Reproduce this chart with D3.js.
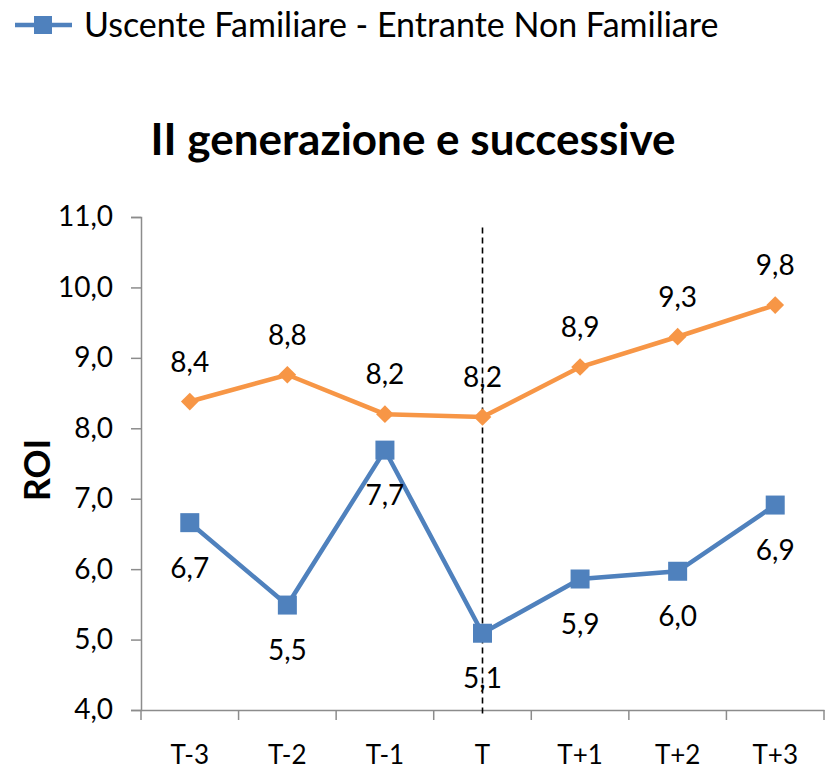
<!DOCTYPE html>
<html><head><meta charset="utf-8">
<script src="https://cdn.jsdelivr.net/npm/d3@7"></script>
<style>body{margin:0;background:#fff}svg{display:block}</style>
</head><body>
<script>
const categories = ["T-3","T-2","T-1","T","T+1","T+2","T+3"];
const orangeValues = [8.38, 8.76, 8.20, 8.16, 8.87, 9.30, 9.75];
const orangeLabels = ["8,4","8,8","8,2","8,2","8,9","9,3","9,8"];
const blueValues = [6.66, 5.49, 7.69, 5.09, 5.86, 5.97, 6.91];
const blueLabels = ["6,7","5,5","7,7","5,1","5,9","6,0","6,9"];
const yTicks = [4,5,6,7,8,9,10,11];
const blueName = "Uscente Familiare - Entrante Non Familiare";
const title = "II generazione e successive";
const yTitle = "ROI";

const W = 826, H = 773;
const FONT = "Lato, 'Open Sans', sans-serif";
const BLUE = "#4F81BD", ORANGE = "#F79646", AXIS = "#8c8c8c";
const svg = d3.select("body").append("svg").attr("width", W).attr("height", H);

const x = d3.scaleBand().domain(categories).range([141, 824]);
const y = d3.scaleLinear().domain([4, 11]).range([710, 217]);
const cx = d => x(d) + x.bandwidth() / 2;

// y axis
const yAxis = svg.append("g").attr("transform", "translate(141,0)")
  .call(d3.axisLeft(y).tickValues(yTicks).tickSize(10).tickPadding(18)
    .tickFormat(d => d3.format(".1f")(d).replace(".", ",")));
yAxis.select(".domain").attr("stroke", AXIS).attr("stroke-width", 1.5);
yAxis.selectAll(".tick line").attr("stroke", AXIS).attr("stroke-width", 1.5);
yAxis.selectAll(".tick text").attr("font-family", FONT).attr("font-size", 28).attr("fill", "#000");

// x axis
const xAxis = svg.append("g").attr("transform", "translate(0,710)")
  .call(d3.axisBottom(x).tickSize(0).tickPadding(36));
xAxis.select(".domain").attr("stroke", AXIS).attr("stroke-width", 1.5);
xAxis.selectAll(".tick text").attr("font-family", FONT).attr("font-size", 26).attr("fill", "#000");
const edges = categories.map(c => x(c)).concat([x.range()[1]]);
svg.append("g").selectAll("line").data(edges).join("line")
  .attr("x1", d => d).attr("x2", d => d).attr("y1", 710).attr("y2", 720)
  .attr("stroke", AXIS).attr("stroke-width", 1.5);

// dashed vertical line at T
svg.append("line").attr("x1", cx("T")).attr("x2", cx("T"))
  .attr("y1", y(10.85)).attr("y2", 714)
  .attr("stroke", "#000").attr("stroke-width", 1.6).attr("stroke-dasharray", "6,4");

const line = d3.line().x((d, i) => cx(categories[i])).y(d => y(d));

// orange series
svg.append("path").datum(orangeValues).attr("d", line)
  .attr("fill", "none").attr("stroke", ORANGE).attr("stroke-width", 4.5);
svg.append("g").selectAll("path").data(orangeValues).join("path")
  .attr("d", d3.symbol(d3.symbolDiamond2, 200)())
  .attr("transform", (d, i) => `translate(${cx(categories[i])},${y(d)})`)
  .attr("fill", ORANGE);

// blue series
svg.append("path").datum(blueValues).attr("d", line)
  .attr("fill", "none").attr("stroke", BLUE).attr("stroke-width", 4.5);
svg.append("g").selectAll("rect").data(blueValues).join("rect")
  .attr("x", (d, i) => cx(categories[i]) - 9.5).attr("y", d => y(d) - 9.5)
  .attr("width", 19).attr("height", 19).attr("fill", BLUE);

// labels
svg.append("g").selectAll("text").data(orangeValues).join("text")
  .attr("x", (d, i) => cx(categories[i])).attr("y", d => y(d) - 30)
  .attr("text-anchor", "middle").attr("font-family", FONT).attr("font-size", 28)
  .text((d, i) => orangeLabels[i]);
svg.append("g").selectAll("text").data(blueValues).join("text")
  .attr("x", (d, i) => cx(categories[i])).attr("y", d => y(d) + 55)
  .attr("text-anchor", "middle").attr("font-family", FONT).attr("font-size", 28)
  .text((d, i) => blueLabels[i]);

// title
svg.append("text").attr("x", 413).attr("y", 155).attr("text-anchor", "middle")
  .attr("font-family", FONT).attr("font-weight", "bold").attr("font-size", 44)
  .text(title);

// y title
svg.append("text").attr("transform", "translate(50,470) rotate(-90)")
  .attr("text-anchor", "middle").attr("font-family", FONT).attr("font-weight", "bold")
  .attr("font-size", 36).text(yTitle);

// legend
const lg = svg.append("g");
lg.append("line").attr("x1", 15).attr("x2", 72).attr("y1", 25).attr("y2", 25)
  .attr("stroke", BLUE).attr("stroke-width", 4.5);
lg.append("rect").attr("x", 34).attr("y", 16).attr("width", 18).attr("height", 18).attr("fill", BLUE);
lg.append("text").attr("x", 84).attr("y", 37).attr("font-family", FONT).attr("font-size", 34)
  .text(blueName);
</script>
</body></html>
